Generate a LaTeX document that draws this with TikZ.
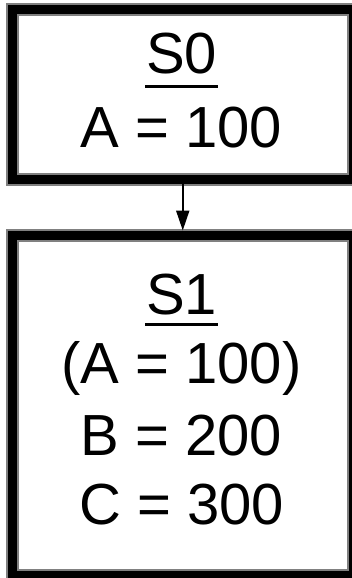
\documentclass[tikz,border=0pt]{standalone}
\usepackage{fontspec}
\setmainfont{Liberation Sans}
\usetikzlibrary{arrows.meta}
\definecolor{rimgray}{HTML}{808080}
\tikzset{
  statebox/.style={draw=black, line width=9pt,
    preaction={fill=white},
    preaction={draw=rimgray, line width=13pt},
    rectangle, inner sep=0pt, outer sep=0pt, minimum width=340.5pt},
  label58/.style={anchor=base, inner sep=0pt, font=\fontsize{58}{70}\selectfont},
  uline/.style={line width=3pt, line cap=butt},
  flow/.style={line width=2pt, -{Triangle[length=20pt,width=13pt]}, shorten >=5pt}
}
\begin{document}
\begin{tikzpicture}[x=1pt, y=-1pt]
\fill[white] (0,0) rectangle (352,578);
\useasboundingbox (0,0) rectangle (352,578);
% boxes
\node[statebox, minimum height=170pt] (s0) at (182.75,94.5) {};
\node[statebox, minimum height=340pt] (s1) at (182.75,405.5) {};
% connector
\draw[flow] (s0.south) -- (s1.north);
% texts of S0
\node[label58] (t0) at (181.5,74) {S0};
\coordinate (u0a) at (145,86);
\coordinate (u0b) at (218,86);
\draw[uline] (u0a) -- (u0b);
\node[label58] (a0) at (181.5,147) {A = 100};
% texts of S1
\node[label58] (t1) at (181.5,314) {S1};
\coordinate (u1a) at (145,324);
\coordinate (u1b) at (218,324);
\draw[uline] (u1a) -- (u1b);
\node[label58] (a1) at (181.5,383) {(A = 100)};
\node[label58] (b1) at (181.5,455) {B = 200};
\node[label58] (c1) at (181.5,524) {C = 300};
\end{tikzpicture}
\end{document}
